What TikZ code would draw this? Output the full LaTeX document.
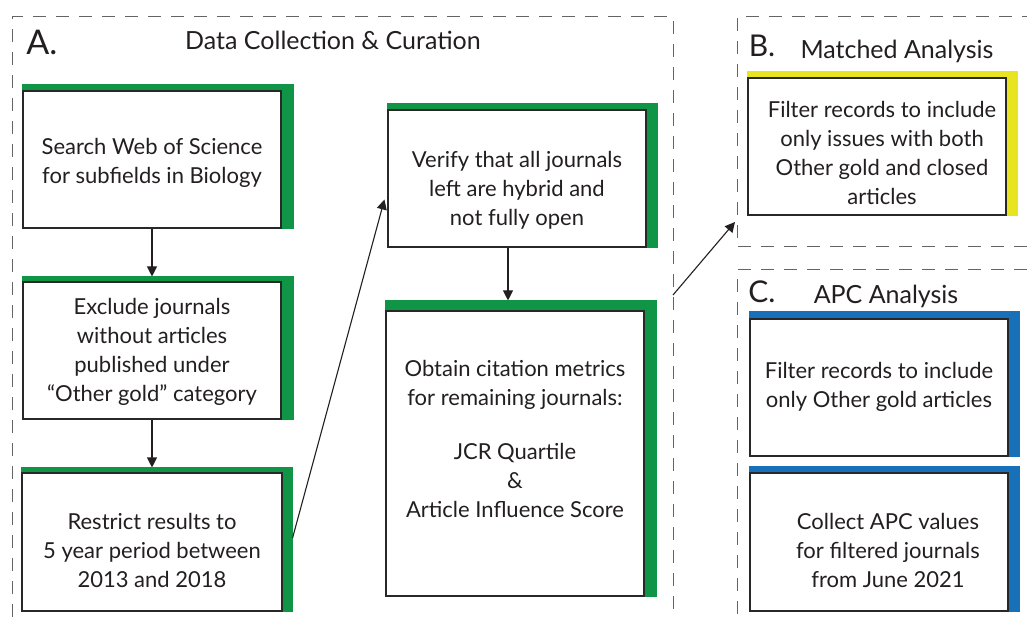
\documentclass[tikz,border=0pt]{standalone}
\usepackage{fontspec}
\setmainfont{Lato}
\usetikzlibrary{arrows.meta,backgrounds}
\definecolor{grn}{RGB}{16,148,70}
\definecolor{yel}{RGB}{232,228,32}
\definecolor{blu}{RGB}{23,112,184}
\definecolor{boxc}{RGB}{40,40,40}
\definecolor{framec}{RGB}{100,100,100}
\definecolor{txtc}{RGB}{35,31,32}
\newsavebox\txtbox
\newcommand\shiftedtext[3]{\sbox\txtbox{\begin{tabular}{@{}c@{}}#3\end{tabular}}\hspace*{#1}\raisebox{#2}[\ht\txtbox][\dp\txtbox]{\usebox\txtbox}\hspace*{-#1}}
\newcommand\colorback[4]{\begin{pgfonlayer}{background}\fill[#2] ([yshift=#3]#1.north west) rectangle ([xshift=#4]#1.south east);\end{pgfonlayer}}
\begin{document}
\begin{tikzpicture}[x=1pt,y=-1pt,
  stepbox/.style={draw=boxc, line width=1.1pt, fill=white, minimum width=258pt, minimum height=137pt, inner sep=0pt, text=txtc, font=\fontsize{22}{29}\selectfont},
  frame/.style={draw=framec, line width=1pt, dash pattern=on 13pt off 10pt},
  arr/.style={draw=txtc, line width=1.1pt, -{Triangle[width=10pt,length=10pt]}},
  heading/.style={anchor=base, text=txtc, inner sep=0pt, font=\fontsize{25}{29}\selectfont},
  letter/.style={anchor=base, text=txtc, inner sep=0pt}
]
\useasboundingbox (0,0) rectangle (1027,617);

% dashed frames
\draw[frame] (12,617) -- (12,17) -- (673,17) -- (673,617);
\draw[frame] (1027,247) -- (737,247) -- (737,17) -- (1027,17);
\draw[frame] (1027,270) -- (737,270) -- (737,617);

% headings
\node[letter, font=\fontsize{34}{34}\selectfont] (la) at (42,55) {A.};
\node[heading] (ta) at (333,50) {Data Collection \& Curation};
\node[letter, font=\fontsize{30}{30}\selectfont] (lb) at (762,57) {B.};
\node[heading] (tb) at (897,59) {Matched Analysis};
\node[letter, font=\fontsize{30}{30}\selectfont] (lc) at (762,302) {C.};
\node[heading] (tc) at (886,304) {APC Analysis};

% boxes
\node[stepbox] (s1) at (152,159.5) {\shiftedtext{0pt}{-4pt}{Search Web of Science\\for subfields in Biology}};
\node[stepbox] (s2) at (152,350.5) {\shiftedtext{0pt}{-2pt}{Exclude journals\\without articles\\published under\\``Other gold'' category}};
\node[stepbox, minimum width=260pt, minimum height=138pt] (s3) at (152,542) {\shiftedtext{0pt}{-11pt}{Restrict results to\\5 year period between\\2013 and 2018}};
\node[stepbox] (s4) at (517,178.5) {\shiftedtext{0pt}{-12pt}{Verify that all journals\\left are hybrid and\\not fully open}};
\node[stepbox, minimum height=285pt] (s5) at (515,453.5) {\shiftedtext{0pt}{12pt}{Obtain citation metrics\\for remaining journals:\\[-4pt] \\JCR Quartile\\\&\\Article Influence Score}};
\node[stepbox] (b1) at (877,146.5) {\shiftedtext{5pt}{-9pt}{Filter records to include\\only issues with both\\Other gold and closed\\articles}};
\node[stepbox] (c1) at (879,387.5) {\shiftedtext{0pt}{0pt}{Filter records to include\\only Other gold articles}};
\node[stepbox, minimum height=138pt] (c2) at (879,542) {\shiftedtext{9pt}{-11pt}{Collect APC values\\for filtered journals\\from June 2021}};

% coloured backing strips
\colorback{s1}{grn}{6pt}{12pt}
\colorback{s2}{grn}{5pt}{12pt}
\colorback{s3}{grn}{5pt}{10pt}
\colorback{s4}{grn}{6pt}{11pt}
\colorback{s5}{grn}{10pt}{12pt}
\colorback{b1}{yel}{6pt}{11pt}
\colorback{c1}{blu}{7pt}{11pt}
\colorback{c2}{blu}{6pt}{11pt}

% connectors
\draw[arr] (s1.south) -- ([yshift=5pt]s2.north);
\draw[arr] (s2.south) -- ([yshift=5pt]s3.north);
\draw[arr] ([xshift=-9pt]s4.south) -- ([xshift=-7pt,yshift=10pt]s5.north);
\draw[arr] ([xshift=10pt,yshift=4pt]s3.east) -- ([xshift=-3pt,yshift=-21pt]s4.west);
\coordinate (aout) at (673,295);
\coordinate (bin) at (735,222);
\draw[arr] (aout) -- (bin);
\end{tikzpicture}
\end{document}
